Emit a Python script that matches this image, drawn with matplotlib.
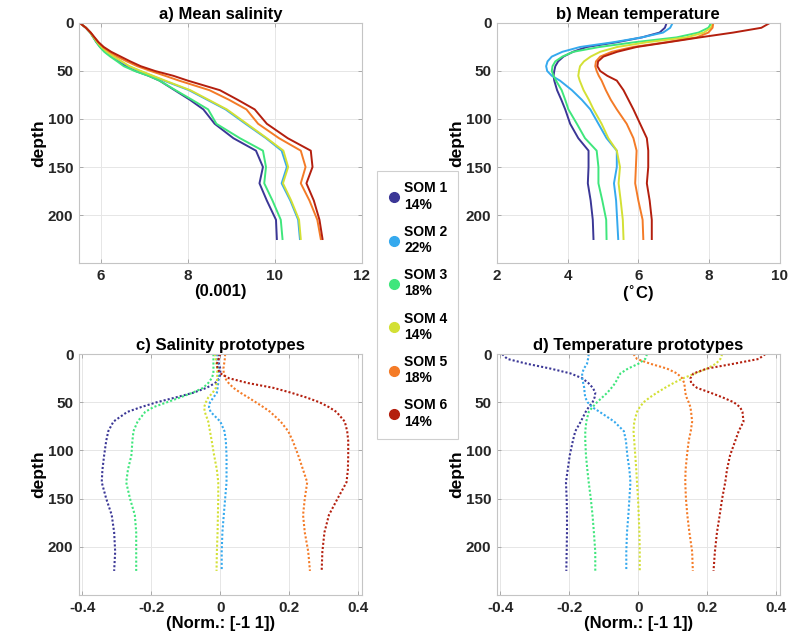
"""
Perfiles medios y prototipos SOM (salinidad / temperatura)
"""

import matplotlib
matplotlib.use('Agg')
import matplotlib.pyplot as plt
from matplotlib.lines import Line2D

plt.rcParams['font.family'] = ['Liberation Sans', 'DejaVu Sans']
plt.rcParams['font.weight'] = 'bold'

# Datos
profundidad = [0, 5, 10, 15, 20, 25, 30, 35, 40, 45, 50, 55, 60, 70, 80, 90,
               105, 120, 133, 150, 167, 185, 205, 225]

etiquetas = ['SOM 1\n14%', 'SOM 2\n22%', 'SOM 3\n18%',
             'SOM 4\n14%', 'SOM 5\n18%', 'SOM 6\n14%']
colores = ['#3b3796', '#35a9ee', '#3fe67c', '#d3e035', '#f47b27', '#b41f0e']

# a) salinidad media
sal_som1 = [5.52, 5.66, 5.76, 5.83, 5.90, 5.99, 6.10, 6.25, 6.42, 6.58, 6.80, 7.10,
            7.35, 7.70, 8.05, 8.36, 8.62, 9.05, 9.57, 9.73, 9.65, 9.82, 10.03, 10.05]
sal_som2 = [5.52, 5.66, 5.76, 5.84, 5.92, 6.01, 6.12, 6.28, 6.46, 6.64, 6.90, 7.18,
            7.45, 8.03, 8.45, 8.87, 9.33, 9.80, 10.16, 10.28, 10.16, 10.36, 10.54, 10.58]
sal_som3 = [5.52, 5.66, 5.76, 5.83, 5.90, 5.98, 6.08, 6.22, 6.38, 6.53, 6.78, 7.10,
            7.35, 7.72, 8.10, 8.47, 8.66, 9.20, 9.73, 9.80, 9.76, 9.95, 10.14, 10.18]
sal_som4 = [5.52, 5.66, 5.76, 5.84, 5.92, 6.02, 6.14, 6.30, 6.48, 6.66, 6.92, 7.20,
            7.48, 8.06, 8.48, 8.90, 9.36, 9.82, 10.20, 10.31, 10.19, 10.38, 10.56, 10.60]
sal_som5 = [5.52, 5.66, 5.77, 5.85, 5.94, 6.05, 6.20, 6.38, 6.60, 6.84, 7.15, 7.48,
            7.80, 8.50, 8.95, 9.35, 9.62, 10.10, 10.60, 10.71, 10.60, 10.80, 10.98, 11.06]
sal_som6 = [5.52, 5.66, 5.77, 5.86, 5.95, 6.07, 6.24, 6.46, 6.68, 6.92, 7.25, 7.67,
            8.00, 8.74, 9.15, 9.54, 9.82, 10.30, 10.83, 10.87, 10.73, 10.90, 11.03, 11.10]

# b) temperatura media
tem_som1 = [6.80, 6.75, 6.60, 6.10, 5.40, 4.54, 4.15, 3.88, 3.73, 3.65, 3.62, 3.60,
            3.62, 3.70, 3.82, 3.93, 4.07, 4.30, 4.59, 4.59, 4.57, 4.65, 4.71, 4.73]
tem_som2 = [6.97, 6.90, 6.70, 6.10, 5.30, 4.35, 3.85, 3.55, 3.43, 3.39, 3.42, 3.55,
            3.78, 4.12, 4.40, 4.64, 4.87, 5.10, 5.39, 5.39, 5.31, 5.37, 5.40, 5.43]
tem_som3 = [8.07, 7.98, 7.70, 7.08, 5.90, 4.90, 4.16, 3.85, 3.65, 3.57, 3.55, 3.60,
            3.67, 3.83, 3.93, 4.02, 4.26, 4.49, 4.82, 4.87, 4.87, 4.98, 5.09, 5.10]
tem_som4 = [8.12, 8.05, 7.85, 7.36, 6.25, 5.40, 4.92, 4.65, 4.46, 4.35, 4.32, 4.30,
            4.34, 4.45, 4.60, 4.73, 4.96, 5.15, 5.39, 5.48, 5.44, 5.50, 5.56, 5.58]
tem_som5 = [8.12, 8.10, 7.98, 7.65, 6.80, 5.85, 5.25, 4.92, 4.80, 4.78, 4.82, 4.88,
            4.96, 5.08, 5.22, 5.39, 5.67, 5.86, 5.95, 5.93, 5.91, 6.00, 6.12, 6.14]
tem_som6 = [9.72, 9.48, 8.68, 7.74, 6.85, 5.95, 5.40, 5.01, 4.86, 4.84, 4.92, 5.12,
            5.39, 5.58, 5.72, 5.86, 6.05, 6.24, 6.28, 6.28, 6.24, 6.32, 6.38, 6.38]

# c) prototipos de salinidad
psal_som1 = [-0.005, -0.005, -0.004, 0.0, 0.0, -0.003, -0.015, -0.04, -0.078, -0.13,
             -0.185, -0.23, -0.27, -0.31, -0.325, -0.331, -0.337, -0.342, -0.344,
             -0.331, -0.315, -0.308, -0.305, -0.308]
psal_som2 = [-0.01, -0.01, -0.008, -0.006, -0.005, -0.005, -0.006, -0.008, -0.01, -0.02,
             -0.03, -0.033, -0.028, 0.0, 0.012, 0.016, 0.018, 0.018, 0.018,
             0.014, 0.01, 0.006, 0.004, 0.004]
psal_som3 = [-0.02, -0.02, -0.02, -0.02, -0.02, -0.025, -0.035, -0.05, -0.08, -0.117,
             -0.155, -0.194, -0.218, -0.24, -0.252, -0.255, -0.258, -0.268, -0.273,
             -0.262, -0.248, -0.244, -0.244, -0.244]
psal_som4 = [-0.015, -0.013, -0.011, -0.009, -0.009, -0.009, -0.011, -0.013, -0.022, -0.035,
             -0.042, -0.047, -0.045, -0.035, -0.03, -0.025, -0.018, -0.01, -0.006,
             -0.006, -0.007, -0.008, -0.01, -0.011]
psal_som5 = [0.014, 0.013, 0.011, 0.009, 0.01, 0.014, 0.024, 0.038, 0.058, 0.081,
             0.103, 0.125, 0.145, 0.175, 0.197, 0.21, 0.226, 0.24, 0.252,
             0.245, 0.24, 0.245, 0.255, 0.26]
psal_som6 = [0.0, -0.005, -0.01, -0.008, 0.0, 0.025, 0.08, 0.154, 0.205, 0.25,
             0.288, 0.315, 0.337, 0.361, 0.368, 0.371, 0.371, 0.37, 0.366,
             0.34, 0.315, 0.302, 0.296, 0.294]

# d) prototipos de temperatura
ptem_som1 = [-0.395, -0.38, -0.323, -0.255, -0.197, -0.163, -0.145, -0.132, -0.125, -0.127,
             -0.133, -0.144, -0.153, -0.167, -0.183, -0.19, -0.199, -0.205, -0.21,
             -0.208, -0.207, -0.207, -0.208, -0.209]
ptem_som2 = [-0.144, -0.146, -0.149, -0.158, -0.163, -0.163, -0.16, -0.157, -0.156, -0.154,
             -0.147, -0.134, -0.112, -0.07, -0.042, -0.036, -0.032, -0.026, -0.023,
             -0.026, -0.029, -0.033, -0.035, -0.035]
ptem_som3 = [0.025, 0.02, 0.0, -0.03, -0.052, -0.06, -0.067, -0.078, -0.09, -0.105,
             -0.12, -0.133, -0.144, -0.151, -0.154, -0.154, -0.152, -0.148, -0.144,
             -0.138, -0.133, -0.129, -0.125, -0.125]
ptem_som4 = [0.243, 0.238, 0.225, 0.199, 0.165, 0.13, 0.102, 0.077, 0.054, 0.033,
             0.015, 0.004, -0.004, -0.012, -0.014, -0.012, -0.009, -0.006, -0.004,
             -0.001, 0.001, 0.003, 0.004, 0.004]
ptem_som5 = [-0.014, -0.004, 0.035, 0.083, 0.112, 0.127, 0.133, 0.135, 0.136, 0.14,
             0.146, 0.151, 0.153, 0.156, 0.152, 0.146, 0.141, 0.137, 0.136,
             0.138, 0.142, 0.148, 0.156, 0.158]
ptem_som6 = [0.368, 0.349, 0.276, 0.199, 0.16, 0.151, 0.153, 0.17, 0.209, 0.245,
             0.277, 0.295, 0.302, 0.305, 0.291, 0.281, 0.266, 0.257, 0.252,
             0.243, 0.236, 0.228, 0.222, 0.218]

salinidad = [sal_som1, sal_som2, sal_som3, sal_som4, sal_som5, sal_som6]
temperatura = [tem_som1, tem_som2, tem_som3, tem_som4, tem_som5, tem_som6]
proto_sal = [psal_som1, psal_som2, psal_som3, psal_som4, psal_som5, psal_som6]
proto_tem = [ptem_som1, ptem_som2, ptem_som3, ptem_som4, ptem_som5, ptem_som6]


def estilo_eje(ax, titulo, xlabel, xlim, xticks, xticklabels=None):
    ax.set_ylim(250, 0)
    ax.set_xlim(*xlim)
    ax.set_xticks(xticks)
    if xticklabels is not None:
        ax.set_xticklabels(xticklabels)
    ax.set_yticks([0, 50, 100, 150, 200])
    ax.set_title(titulo, fontsize=12, fontweight='bold', pad=3)
    ax.set_xlabel(xlabel, fontsize=12, fontweight='bold', labelpad=1)
    ax.set_ylabel('depth', fontsize=12.5, fontweight='bold', labelpad=1)
    ax.grid(True, color='#e6e6e6', linewidth=0.7)
    ax.set_axisbelow(True)
    for s in ax.spines.values():
        s.set_color('#c4c4c4')
        s.set_linewidth(0.8)
    ax.tick_params(direction='in', length=3, width=0.6, color='#a0a0a0',
                   labelsize=11, top=True, right=True, pad=4)
    for lab in ax.get_xticklabels() + ax.get_yticklabels():
        lab.set_fontweight('bold')
        lab.set_color('#262626')


fig = plt.figure(figsize=(8.1, 6.44), dpi=100)
ax_a = fig.add_axes([0.0975, 0.5916, 0.349, 0.3727])
ax_b = fig.add_axes([0.6136, 0.5916, 0.349, 0.3727])
ax_c = fig.add_axes([0.0975, 0.0761, 0.349, 0.374])
ax_d = fig.add_axes([0.6136, 0.0761, 0.349, 0.374])

for i in range(6):
    ax_a.plot(salinidad[i], profundidad, color=colores[i], linewidth=1.4)
    ax_b.plot(temperatura[i], profundidad, color=colores[i], linewidth=1.4)
    ax_c.plot(proto_sal[i], profundidad, color=colores[i], linewidth=1.5, linestyle=(0, (1, 1)))
    ax_d.plot(proto_tem[i], profundidad, color=colores[i], linewidth=1.5, linestyle=(0, (1, 1)))

ticks_norm = [-0.4, -0.2, 0, 0.2, 0.4]
etiq_norm = ['-0.4', '-0.2', '0', '0.2', '0.4']
estilo_eje(ax_a, 'a) Mean salinity', '(0.001)', (5.5, 12), [6, 8, 10, 12])
estilo_eje(ax_b, 'b) Mean temperature', r'($^{\circ}$C)', (2, 10), [2, 4, 6, 8, 10])
estilo_eje(ax_c, 'c) Salinity prototypes', '(Norm.: [-1 1])', (-0.41, 0.41), ticks_norm, etiq_norm)
estilo_eje(ax_d, 'd) Temperature prototypes', '(Norm.: [-1 1])', (-0.41, 0.41), ticks_norm, etiq_norm)

# Leyenda
handles = [Line2D([], [], linestyle='none', marker='o', markersize=7,
                  markerfacecolor=c, markeredgecolor=c) for c in colores]
leg = fig.legend(handles, etiquetas, loc='upper left',
                 bbox_to_anchor=(377 / 810, 1 - 171 / 644),
                 frameon=True, fancybox=False, fontsize=10,
                 labelspacing=0.95, handletextpad=0.2, handlelength=1.0,
                 borderpad=0.75, borderaxespad=0)
leg.get_frame().set_edgecolor('#c4c4c4')
leg.get_frame().set_linewidth(0.8)
for t in leg.get_texts():
    t.set_fontweight('bold')

plt.savefig('out.png', dpi=100)
plt.close()
